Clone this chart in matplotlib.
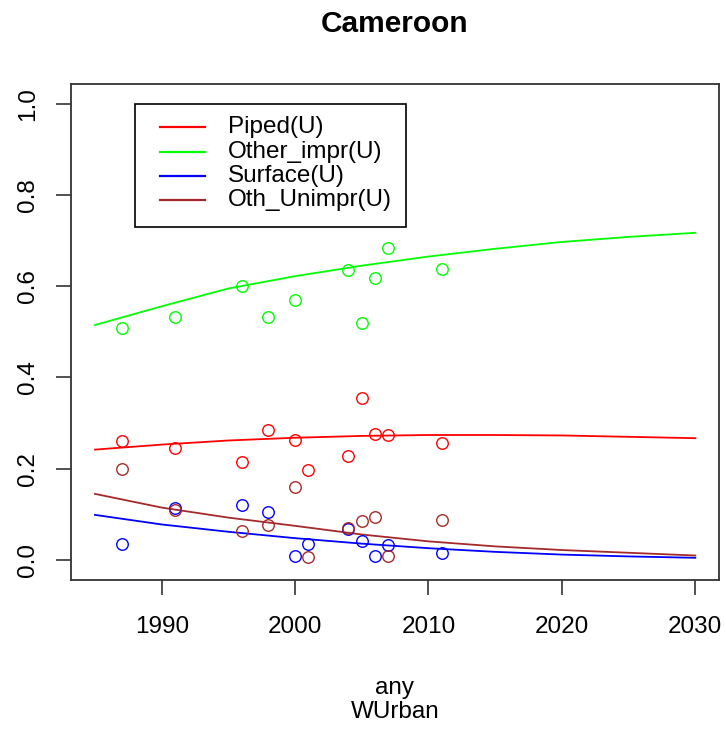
import numpy as np
import matplotlib
matplotlib.use("Agg")
import matplotlib.pyplot as plt
from matplotlib.patches import Rectangle

plt.rcParams['font.family'] = ['Liberation Sans', 'DejaVu Sans']

# survey points
yr_pts = [1987, 1991, 1996, 1998, 2000, 2004, 2005, 2006, 2007, 2011]
green_pts = [0.509, 0.533, 0.601, 0.533, 0.569, 0.636, 0.519, 0.618, 0.684, 0.638]

red_yrs = [1987, 1991, 1996, 1998, 2000, 2001, 2004, 2005, 2006, 2007, 2011]
red_pts = [0.260, 0.245, 0.215, 0.284, 0.263, 0.197, 0.228, 0.355, 0.277, 0.274, 0.256]
brown_pts = [0.200, 0.110, 0.063, 0.077, 0.161, 0.007, 0.070, 0.085, 0.095, 0.010, 0.088]
blue_pts = [0.036, 0.114, 0.120, 0.105, 0.008, 0.036, 0.068, 0.042, 0.008, 0.032, 0.015]

# fitted curves
yr_fit = [1985, 1990, 1995, 2000, 2005, 2010, 2015, 2020, 2025, 2030]
red_fit = [0.242, 0.253, 0.262, 0.268, 0.272, 0.274, 0.274, 0.273, 0.270, 0.267]
green_fit = [0.515, 0.556, 0.595, 0.622, 0.645, 0.665, 0.682, 0.697, 0.708, 0.717]
blue_fit = [0.099, 0.078, 0.062, 0.048, 0.036, 0.026, 0.018, 0.012, 0.008, 0.005]
brown_fit = [0.145, 0.115, 0.093, 0.075, 0.056, 0.041, 0.030, 0.022, 0.016, 0.010]

labels = ['Piped(U)', 'Other_impr(U)', 'Surface(U)', 'Oth_Unimpr(U)']
cols = ['#FF0000', '#00FF00', '#0000FF', '#A52A2A']

W, H = 726, 731
fig = plt.figure(figsize=(W / 100, H / 100), dpi=100)
l, r, t, b = 71, 719.3, 84, 579.7
ax = fig.add_axes([l / W, 1 - b / H, (r - l) / W, (b - t) / H])

fits = [red_fit, green_fit, blue_fit, brown_fit]
for f, c in zip(fits, cols):
    ax.plot(yr_fit, f, color=c, lw=1.3)

ms = 8.3
ax.plot(yr_pts, green_pts, 'o', mfc='none', mec=cols[1], ms=ms, mew=1.0)
ax.plot(red_yrs, red_pts, 'o', mfc='none', mec=cols[0], ms=ms, mew=1.0)
ax.plot(red_yrs, blue_pts, 'o', mfc='none', mec=cols[2], ms=ms, mew=1.0)
ax.plot(red_yrs, brown_pts, 'o', mfc='none', mec=cols[3], ms=ms, mew=1.0)

ax.set_xlim(1983.2, 2031.8)
ax.set_ylim(-0.043, 1.043)
ax.set_xticks([1990, 2000, 2010, 2020, 2030])
ax.set_yticks([0.0, 0.2, 0.4, 0.6, 0.8, 1.0])
ax.set_yticklabels(['0.0', '0.2', '0.4', '0.6', '0.8', '1.0'], rotation=90, va='center')
ax.tick_params(axis='both', length=11, width=1.2, color='#333333', labelsize=17.5, direction='out')
ax.tick_params(axis='x', pad=15)
ax.tick_params(axis='y', pad=12)
for s in ax.spines.values():
    s.set_linewidth(1.3)
    s.set_color('#333333')

# legend box drawn like R's legend()
ax.add_patch(Rectangle((0.0987, 0.7121), 0.418, 0.2476, transform=ax.transAxes,
                       fill=False, ec='black', lw=1.2, zorder=5))
for i, (lab, c) in enumerate(zip(labels, cols)):
    yy = 0.9126 - i * 0.0488
    ax.plot([0.1373, 0.2067], [yy, yy], color=c, lw=1.6, transform=ax.transAxes, zorder=6)
    ax.text(0.2422, yy, lab, transform=ax.transAxes, fontsize=17.5, va='center', ha='left')

fig.text(395 / W, 1 - 24 / H, 'Cameroon', ha='center', va='center', fontsize=21.5, fontweight='bold')
fig.text(395 / W, 1 - 688 / H, 'any', ha='center', va='center', fontsize=17.5)
fig.text(395 / W, 1 - 712 / H, 'WUrban', ha='center', va='center', fontsize=17.5)

fig.savefig('out.png', dpi=100)
